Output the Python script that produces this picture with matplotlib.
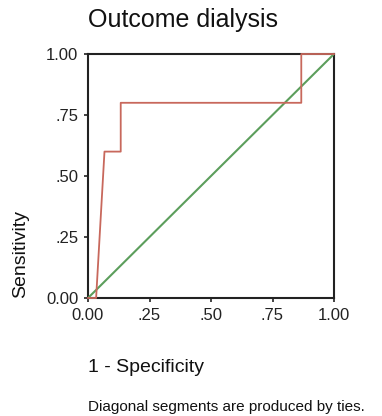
import matplotlib
matplotlib.use("Agg")
import matplotlib.pyplot as plt

plt.rcParams['font.family'] = ['Liberation Sans', 'DejaVu Sans']

fpr = [0.0, 0.033, 0.067, 0.133, 0.133, 0.867, 0.867, 1.0]
tpr = [0.0, 0.0, 0.6, 0.6, 0.8, 0.8, 1.0, 1.0]
ref_x = [0.0, 1.0]
ref_y = [0.0, 1.0]
ticks = [0.0, 0.25, 0.5, 0.75, 1.0]
tick_labels = ["0.00", ".25", ".50", ".75", "1.00"]

fig = plt.figure(figsize=(3.82, 4.16), dpi=100)
ax = fig.add_axes([88/382, 1-298/416, 246/382, 244/416])
ax.plot(ref_x, ref_y, color="#5c9e5c", lw=1.5, zorder=3)
ax.plot(fpr, tpr, color="#c8685c", lw=1.3, zorder=4, clip_on=False)
ax.set_xlim(0, 1)
ax.set_ylim(0, 1)
ax.set_xticks(ticks)
ax.set_xticklabels(tick_labels)
ax.set_yticks(ticks)
ax.set_yticklabels(tick_labels)
ax.tick_params(direction="out", length=3, width=1.2, labelsize=12, pad=4, colors="#222222")
for s in ax.spines.values():
    s.set_linewidth(1.5)
    s.set_color("#222222")
    s.set_zorder(2)

fig.text(88/382, 1-20/416, "Outcome dialysis", fontsize=18, ha="left", va="center", color="#111111")
fig.text(88/382, 1-367/416, "1 - Specificity", fontsize=14, ha="left", va="center", color="#111111")
fig.text(88/382, 1-407/416, "Diagonal segments are produced by ties.", fontsize=11, ha="left", va="center", color="#111111")
fig.text(21/382, 1-254/416, "Sensitivity", fontsize=14, rotation=90, ha="center", va="center", color="#111111")

fig.savefig("out.png", dpi=100)
